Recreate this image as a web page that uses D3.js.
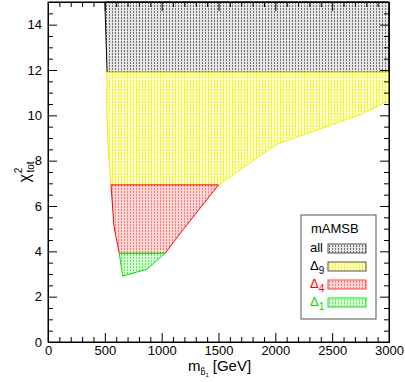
<!DOCTYPE html>
<html>
<head>
<meta charset="utf-8">
<script src="https://cdn.jsdelivr.net/npm/d3@7"></script>
<style>
  body { margin: 0; background: #fff; }
  svg { font-family: "Liberation Sans", Arial, Helvetica, sans-serif; }
  .axis path, .axis line { stroke: #000; }
  .axis text { font-size: 13px; fill: #000; }
</style>
</head>
<body>
<div id="chart"></div>
<script>
// data: region outlines as [m_sbottom (GeV), chi2_tot]
const allRegion = [[500, 15], [3000, 15], [3000, 11.9], [520, 11.9]];
const delta9Region = [[520, 11.9], [3000, 11.9], [3000, 10.65], [2730, 10.0], [2010, 8.72],
  [1500, 6.93], [554, 6.93], [530, 8.5], [518, 10.2]];
const delta4Region = [[554, 6.93], [1500, 6.93], [1195, 5.0], [1030, 3.91], [627, 3.91], [581, 5.09]];
const delta1Region = [[627, 3.91], [1030, 3.91], [870, 3.21], [657, 2.91]];

const xMajor = [0, 500, 1000, 1500, 2000, 2500, 3000];
const yMajor = [0, 2, 4, 6, 8, 10, 12, 14];

const legendTitle = "mAMSB";
const legendNames = ["all", "\u0394", "\u0394", "\u0394"];
const legendSubs = ["", "9", "4", "1"];

const WIDTH = 405, HEIGHT = 382;
const margin = {top: 2, right: 16, bottom: 40, left: 48};
const width = WIDTH - margin.left - margin.right;
const height = HEIGHT - margin.top - margin.bottom;

const svg = d3.select('#chart').append('svg')
    .attr('width', WIDTH)
    .attr('height', HEIGHT);

// hatch patterns
const defs = svg.append('defs');
const styles = [
  {id: 'hall', bg: '#e6e6e6', fg: '#707070', line: '#000', leg: '#555', text: '#000'},
  {id: 'h9', bg: '#ffffcc', fg: '#f4f400', line: '#f0f000', leg: '#555', text: '#000'},
  {id: 'h4', bg: '#ffd8d8', fg: '#ff7878', line: '#ff0000', leg: '#ff4040', text: '#ff0000'},
  {id: 'h1', bg: '#d8ffd8', fg: '#58f058', line: '#00e000', leg: '#20e020', text: '#00dd00'}
];
styles.forEach(function(s) {
  let p = defs.append('pattern')
      .attr('id', s.id)
      .attr('patternUnits', 'userSpaceOnUse')
      .attr('width', 3).attr('height', 3);
  p.append('rect').attr('width', 3).attr('height', 3).attr('fill', s.bg);
  p.append('rect').attr('x', 1).attr('width', 1).attr('height', 2).attr('fill', s.fg);
});

const g = svg.append('g')
    .attr('transform', 'translate(' + margin.left + ',' + margin.top + ')');

const x = d3.scaleLinear().domain([0, 3000]).range([0, width]);
const y = d3.scaleLinear().domain([0, 15]).range([height, 0]);

const line = d3.line()
    .x(function(d) { return x(d[0]); })
    .y(function(d) { return y(d[1]); })
    .curve(d3.curveLinearClosed);

const regions = [allRegion, delta9Region, delta4Region, delta1Region];
regions.forEach(function(r, i) {
  g.append('path')
      .attr('d', line(r))
      .attr('fill', 'url(#' + styles[i].id + ')')
      .attr('stroke', styles[i].line)
      .attr('stroke-width', 1);
});

// axes, ticks inward
const xMinor = d3.range(0, 3001, 100).filter(function(v) { return v % 500 !== 0; });
const yMinor = d3.range(0, 15.01, 0.5).filter(function(v) { return v % 2 !== 0; });
const fmt = d3.format('d');

g.append('g').attr('class', 'axis')
    .attr('transform', 'translate(0,' + height + ')')
    .call(d3.axisBottom(x).tickValues(xMajor).tickFormat(fmt).tickSizeInner(-9).tickSizeOuter(0).tickPadding(4));
g.append('g').attr('class', 'axis')
    .attr('transform', 'translate(0,' + height + ')')
    .call(d3.axisBottom(x).tickValues(xMinor).tickSizeInner(-5).tickSizeOuter(0).tickFormat(''));
g.append('g').attr('class', 'axis')
    .call(d3.axisTop(x).tickValues(xMajor).tickSizeInner(-9).tickSizeOuter(0).tickFormat(''));
g.append('g').attr('class', 'axis')
    .call(d3.axisTop(x).tickValues(xMinor).tickSizeInner(-5).tickSizeOuter(0).tickFormat(''));

g.append('g').attr('class', 'axis')
    .call(d3.axisLeft(y).tickValues(yMajor).tickFormat(fmt).tickSizeInner(-9).tickSizeOuter(0).tickPadding(6));
g.append('g').attr('class', 'axis')
    .call(d3.axisLeft(y).tickValues(yMinor).tickSizeInner(-5).tickSizeOuter(0).tickFormat(''));
g.append('g').attr('class', 'axis')
    .attr('transform', 'translate(' + width + ',0)')
    .call(d3.axisRight(y).tickValues(yMajor).tickSizeInner(-9).tickSizeOuter(0).tickFormat(''));
g.append('g').attr('class', 'axis')
    .attr('transform', 'translate(' + width + ',0)')
    .call(d3.axisRight(y).tickValues(yMinor).tickSizeInner(-5).tickSizeOuter(0).tickFormat(''));

// frame
g.append('rect')
    .attr('width', width).attr('height', height)
    .attr('fill', 'none').attr('stroke', '#000').attr('stroke-width', 1);

// x title: m_{b~1} [GeV]
const xt = svg.append('text')
    .attr('x', margin.left + width / 2 + 1)
    .attr('y', 371)
    .attr('text-anchor', 'middle')
    .style('font-size', '15px');
xt.append('tspan').text('m');
xt.append('tspan').attr('dy', 4).style('font-size', '9px').text('b\u0303');
xt.append('tspan').attr('dy', 2).style('font-size', '6px').text('1');
xt.append('tspan').attr('dy', -6).attr('dx', 4).text('[GeV]');

// y title: chi^2_tot
const yt = svg.append('text')
    .attr('transform', 'translate(30,' + (margin.top + height / 2) + ') rotate(-90)')
    .attr('text-anchor', 'middle')
    .style('font-size', '16px');
yt.append('tspan').text('\u03c7');
yt.append('tspan').attr('dy', -8).attr('dx', 1).style('font-size', '10px').text('2');
yt.append('tspan').attr('dy', 12).attr('dx', -5).style('font-size', '10px').text('tot');

// legend
const lg = svg.append('g').attr('transform', 'translate(301,215)');
lg.append('rect')
    .attr('width', 75).attr('height', 104)
    .attr('fill', '#fff').attr('stroke', '#555').attr('stroke-width', 1);
lg.append('text').attr('x', 10).attr('y', 18)
    .style('font-size', '13px').text(legendTitle);
legendNames.forEach(function(name, i) {
  let ry = 29 + i * 18;
  let t = lg.append('text').attr('x', 9).attr('y', ry + 8)
      .style('font-size', '13px').attr('fill', styles[i].text);
  t.append('tspan').text(name);
  if (legendSubs[i]) {
    t.append('tspan').attr('dy', 4).style('font-size', '10px').text(legendSubs[i]);
  }
  lg.append('rect')
      .attr('x', 27).attr('y', ry)
      .attr('width', 38).attr('height', 9)
      .attr('fill', 'url(#' + styles[i].id + ')')
      .attr('stroke', styles[i].leg).attr('stroke-width', 1);
});
</script>
</body>
</html>
